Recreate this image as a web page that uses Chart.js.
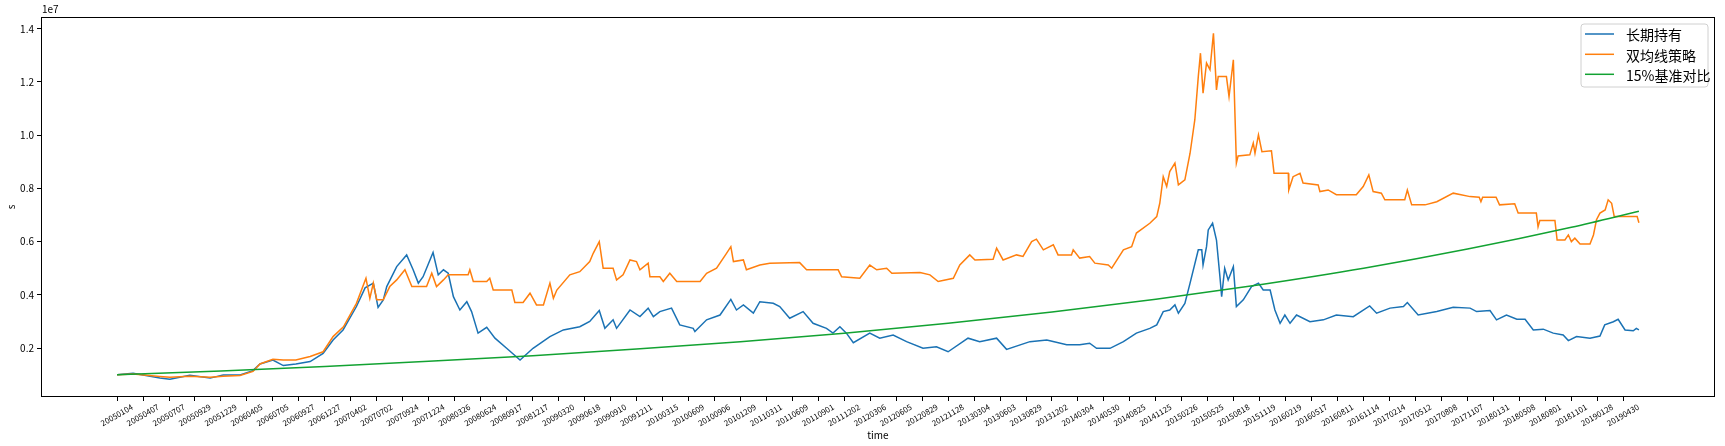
<!DOCTYPE html>
<html>
<head>
<meta charset="utf-8">
<script src="https://cdn.jsdelivr.net/npm/chart.js@4/dist/chart.umd.min.js"></script>
<style>
html,body{margin:0;padding:0;background:#fff;}
#wrap{position:relative;width:1725px;height:446px;}
</style>
</head>
<body>
<div id="wrap"><canvas id="c"></canvas></div>
<script>
// ---- data (values in units of 1e7) ----
const tickLabels = ["20050104","20050407","20050707","20050929","20051229","20060405","20060705","20060927","20061227","20070402","20070702","20070924","20071224","20080326","20080624","20080917","20081217","20090320","20090618","20090910","20091211","20100315","20100609","20100906","20101209","20110311","20110609","20110901","20111202","20120306","20120605","20120829","20121128","20130304","20130603","20130829","20131202","20140304","20140530","20140825","20141125","20150226","20150525","20150818","20151119","20160219","20160517","20160811","20161114","20170214","20170512","20170808","20171107","20180131","20180508","20180801","20181101","20190128","20190430"];
const tickStep = 60;       // trading days between labelled ticks
const lastDay = 3516;      // index of last trading day

const holdDays = [0,37,99,122,168,215,245,284,314,330,360,384,413,446,476,499,522,553,573,592,603,615,623,646,669,684,696,707,730,742,754,765,777,792,808,819,834,854,873,900,931,961,1000,1031,1069,1092,1114,1127,1146,1154,1185,1208,1227,1239,1254,1281,1300,1331,1335,1362,1393,1418,1431,1447,1470,1485,1516,1531,1554,1585,1608,1639,1654,1670,1685,1701,1739,1762,1793,1824,1862,1893,1920,1966,1993,2032,2055,2109,2148,2194,2224,2247,2263,2294,2325,2355,2386,2402,2417,2432,2444,2452,2467,2479,2498,2506,2509,2517,2521,2531,2540,2548,2552,2559,2567,2579,2586,2602,2621,2637,2648,2664,2675,2687,2698,2710,2725,2756,2787,2817,2856,2894,2910,2941,2972,2981,3006,3049,3087,3126,3141,3172,3187,3210,3234,3253,3272,3295,3318,3341,3353,3372,3403,3426,3437,3457,3468,3484,3503,3510,3516];
const holdVals = [0.100,0.105,0.087,0.083,0.098,0.087,0.099,0.099,0.115,0.140,0.155,0.134,0.140,0.149,0.180,0.230,0.268,0.356,0.426,0.444,0.353,0.381,0.431,0.506,0.550,0.494,0.444,0.468,0.559,0.475,0.494,0.481,0.393,0.343,0.374,0.337,0.256,0.278,0.237,0.199,0.155,0.199,0.243,0.268,0.280,0.300,0.341,0.274,0.306,0.274,0.343,0.318,0.350,0.318,0.337,0.350,0.287,0.274,0.262,0.306,0.324,0.383,0.343,0.362,0.331,0.374,0.368,0.356,0.312,0.337,0.293,0.274,0.256,0.280,0.256,0.220,0.256,0.237,0.249,0.224,0.199,0.205,0.186,0.237,0.224,0.237,0.195,0.224,0.230,0.212,0.212,0.218,0.199,0.199,0.224,0.256,0.274,0.287,0.337,0.343,0.362,0.331,0.368,0.444,0.569,0.569,0.512,0.581,0.644,0.669,0.606,0.468,0.393,0.500,0.456,0.506,0.356,0.381,0.431,0.444,0.418,0.418,0.343,0.293,0.324,0.293,0.324,0.299,0.306,0.324,0.318,0.358,0.331,0.350,0.356,0.371,0.324,0.337,0.353,0.350,0.337,0.341,0.306,0.324,0.308,0.308,0.268,0.271,0.256,0.249,0.228,0.243,0.237,0.245,0.287,0.299,0.308,0.268,0.265,0.274,0.268];

const maDays = [0,37,99,122,168,215,245,284,314,330,360,384,413,446,476,499,523,553,575,584,592,600,615,630,646,665,681,715,727,738,754,765,811,815,823,854,861,869,912,919,938,954,969,985,1000,1008,1016,1046,1069,1092,1100,1114,1123,1146,1154,1169,1185,1200,1208,1227,1231,1254,1262,1277,1293,1347,1362,1385,1408,1418,1424,1447,1454,1485,1508,1577,1593,1666,1674,1716,1739,1755,1778,1790,1855,1878,1897,1932,1947,1970,1982,2024,2032,2047,2078,2093,2113,2124,2140,2163,2174,2205,2209,2224,2247,2259,2290,2298,2325,2344,2355,2386,2402,2409,2417,2425,2432,2444,2452,2467,2479,2490,2498,2503,2509,2517,2525,2533,2540,2544,2563,2569,2579,2586,2590,2617,2625,2629,2637,2645,2667,2673,2706,2707,2717,2733,2740,2775,2779,2798,2817,2863,2879,2892,2902,2921,2929,2975,2981,2991,3022,3049,3087,3126,3147,3151,3155,3186,3194,3229,3237,3279,3283,3287,3322,3327,3345,3353,3360,3368,3380,3403,3411,3418,3426,3438,3445,3453,3459,3512,3516];
const maVals = [0.100,0.102,0.093,0.090,0.094,0.090,0.094,0.097,0.112,0.140,0.158,0.155,0.155,0.168,0.186,0.243,0.280,0.368,0.462,0.387,0.444,0.381,0.381,0.431,0.456,0.494,0.431,0.431,0.481,0.431,0.456,0.475,0.475,0.494,0.450,0.450,0.462,0.418,0.418,0.371,0.371,0.406,0.362,0.362,0.444,0.387,0.418,0.475,0.487,0.525,0.556,0.600,0.500,0.500,0.456,0.475,0.531,0.525,0.494,0.519,0.468,0.468,0.450,0.481,0.450,0.450,0.481,0.500,0.556,0.581,0.525,0.531,0.494,0.512,0.519,0.521,0.494,0.494,0.468,0.462,0.512,0.494,0.500,0.481,0.484,0.475,0.450,0.462,0.512,0.550,0.531,0.534,0.575,0.531,0.550,0.544,0.600,0.609,0.569,0.588,0.550,0.550,0.569,0.538,0.544,0.519,0.512,0.500,0.569,0.581,0.632,0.669,0.694,0.744,0.844,0.807,0.863,0.895,0.813,0.832,0.932,1.058,1.220,1.308,1.158,1.271,1.246,1.383,1.170,1.220,1.220,1.145,1.283,0.895,0.922,0.926,0.970,0.932,1.001,0.938,0.941,0.857,0.857,0.794,0.844,0.857,0.820,0.813,0.788,0.794,0.776,0.776,0.807,0.851,0.788,0.782,0.757,0.757,0.794,0.738,0.738,0.750,0.782,0.769,0.767,0.750,0.767,0.767,0.738,0.742,0.707,0.707,0.656,0.679,0.679,0.606,0.606,0.625,0.600,0.613,0.591,0.591,0.625,0.682,0.707,0.719,0.757,0.744,0.694,0.694,0.671];

const benchDays = [0,240,480,720,960,1200,1440,1680,1920,2160,2400,2640,2880,3120,3360,3516];
const benchVals = [0.100,0.114,0.131,0.150,0.171,0.196,0.224,0.256,0.293,0.335,0.383,0.438,0.500,0.572,0.654,0.714];

const seriesNames = ["长期持有","双均线策略","15%基准对比"];
const seriesColors = ["#1a72b4","#ff7f0e","#12a232"];
const yTicks = [0.2,0.4,0.6,0.8,1.0,1.2,1.4];

// ---- build ----
const pts = (xs, ys) => xs.map((x, i) => ({x: x, y: ys[i]}));
const pad = lastDay * 0.05;
const FONT = "'Noto Sans CJK SC', 'DejaVu Sans', sans-serif";

const framePlugin = {
  id: 'frame',
  afterDraw(chart) {
    const ctx = chart.ctx, a = chart.chartArea;
    ctx.save();
    ctx.strokeStyle = '#000'; ctx.lineWidth = 1;
    ctx.strokeRect(Math.round(a.left) + 0.5, Math.round(a.top) + 0.5, Math.round(a.right - a.left) - 1, Math.round(a.bottom - a.top) - 1);
    ctx.fillStyle = '#000';
    ctx.font = "10px " + FONT;
    ctx.textAlign = 'left'; ctx.textBaseline = 'alphabetic';
    ctx.fillText('1e7', a.left + 1, a.top - 4);
    ctx.textAlign = 'center'; ctx.textBaseline = 'middle';
    ctx.fillText('time', (a.left + a.right) / 2, 435);
    ctx.save();
    ctx.translate(11, (a.top + a.bottom) / 2);
    ctx.rotate(-Math.PI / 2);
    ctx.fillText('s', 0, 0);
    ctx.restore();
    // legend
    const bx = 1581, by = 24, bw = 127, bh = 63, r = 3;
    ctx.beginPath();
    ctx.moveTo(bx + r, by); ctx.lineTo(bx + bw - r, by); ctx.quadraticCurveTo(bx + bw, by, bx + bw, by + r);
    ctx.lineTo(bx + bw, by + bh - r); ctx.quadraticCurveTo(bx + bw, by + bh, bx + bw - r, by + bh);
    ctx.lineTo(bx + r, by + bh); ctx.quadraticCurveTo(bx, by + bh, bx, by + bh - r);
    ctx.lineTo(bx, by + r); ctx.quadraticCurveTo(bx, by, bx + r, by);
    ctx.closePath();
    ctx.fillStyle = 'rgba(255,255,255,0.8)'; ctx.fill();
    ctx.strokeStyle = '#d0d0d0'; ctx.lineWidth = 1; ctx.stroke();
    const rows = [34, 54.3, 74.3];
    ctx.font = "14px " + FONT;
    ctx.textAlign = 'left'; ctx.textBaseline = 'middle';
    for (let i = 0; i < 3; i++) {
      ctx.strokeStyle = seriesColors[i]; ctx.lineWidth = 1.5;
      ctx.beginPath(); ctx.moveTo(1585, rows[i]); ctx.lineTo(1614, rows[i]); ctx.stroke();
      ctx.fillStyle = '#000';
      ctx.fillText(seriesNames[i], 1626, rows[i] + 1);
    }
    ctx.restore();
  }
};

new Chart(document.getElementById('c'), {
  type: 'line',
  data: {
    datasets: [
      {label: seriesNames[0], data: pts(holdDays, holdVals), borderColor: seriesColors[0], order: 3},
      {label: seriesNames[1], data: pts(maDays, maVals), borderColor: seriesColors[1], order: 2},
      {label: seriesNames[2], data: pts(benchDays, benchVals), borderColor: seriesColors[2], order: 1, cubicInterpolationMode: 'monotone'}
    ]
  },
  options: {
    responsive: true,
    maintainAspectRatio: false,
    animation: false,
    datasets: {line: {borderWidth: 1.5, pointRadius: 0, tension: 0, fill: false}},
    layout: {padding: {left: 0, top: 17, right: 10, bottom: 0}},
    plugins: {legend: {display: false}, tooltip: {enabled: false}},
    scales: {
      x: {
        type: 'linear',
        min: -pad, max: lastDay + pad,
        grid: {drawOnChartArea: false, drawTicks: true, tickLength: 4, color: '#000'},
        border: {display: false},
        afterBuildTicks: s => { s.ticks = tickLabels.map((_, i) => ({value: i * tickStep})); },
        afterFit: s => { s.height = 49; },
        ticks: {
          autoSkip: false, minRotation: 30, maxRotation: 30, padding: 1, labelOffset: 15,
          color: '#000', font: {size: 8, family: FONT},
          callback: (v) => tickLabels[Math.round(v / tickStep)]
        }
      },
      y: {
        type: 'linear',
        min: 0.016, max: 1.444,
        grid: {drawOnChartArea: false, drawTicks: true, tickLength: 4, color: '#000'},
        border: {display: false},
        afterBuildTicks: s => { s.ticks = yTicks.map(v => ({value: v})); },
        afterFit: s => { s.width = 41; },
        ticks: {
          padding: 3, color: '#000', font: {size: 10, family: FONT},
          callback: v => v.toFixed(1)
        }
      }
    }
  },
  plugins: [framePlugin]
});
</script>
</body>
</html>
